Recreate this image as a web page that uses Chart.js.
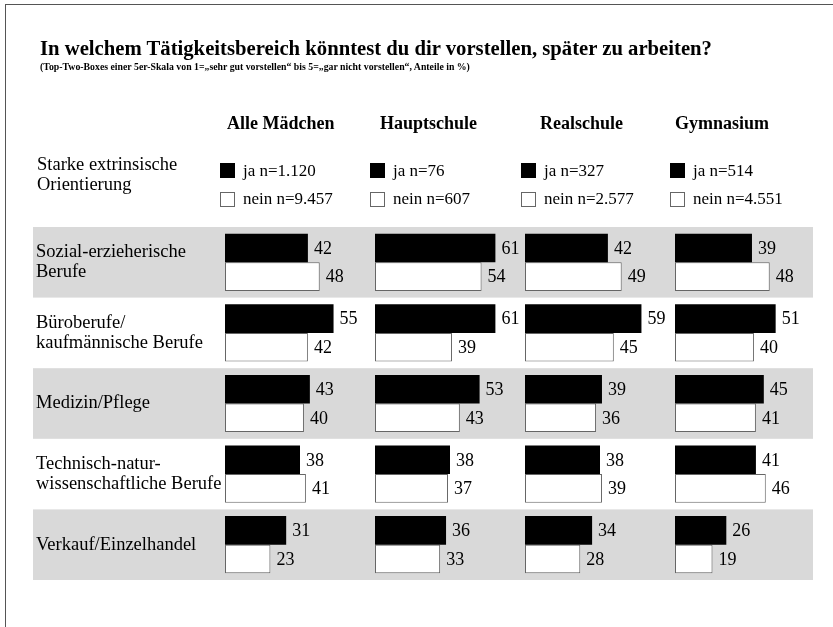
<!DOCTYPE html>
<html lang="de">
<head>
<meta charset="utf-8">
<script src="https://cdn.jsdelivr.net/npm/chart.js@4/dist/chart.umd.min.js"></script>
<style>
  body { margin: 0; background: #fff; font-family: 'Liberation Serif', serif; color: #000; }
  #wrap { position: relative; width: 833px; height: 627px; overflow: hidden; }
  #frame { position: absolute; left: 5px; top: 4px; right: -10px; bottom: -10px; border-left: 1.5px solid #555; border-top: 1.5px solid #555; }
  canvas { position: absolute; left: 0; top: 0; }
  .t { position: absolute; white-space: nowrap; }
  h1 { position: absolute; left: 40px; top: 37px; margin: 0; font-size: 20.7px; font-weight: bold; }
  .sub { position: absolute; left: 40px; top: 61px; font-size: 9.8px; font-weight: bold; }
  .col { font-size: 18px; font-weight: bold; top: 113px; }
  .lab { font-size: 18.5px; left: 37px; }
  .leg { font-size: 17px; }
  .box { position: absolute; width: 15px; height: 15px; box-sizing: border-box; }
</style>
</head>
<body>
<div id="wrap">
  <div id="frame"></div>
  <canvas id="chart" width="833" height="627"></canvas>
  <h1 class="t">In welchem Tätigkeitsbereich könntest du dir vorstellen, später zu arbeiten?</h1>
  <div class="t sub">(Top-Two-Boxes einer 5er-Skala von 1=„sehr gut vorstellen“ bis 5=„gar nicht vorstellen“, Anteile in %)</div>
  <div class="t lab" style="top:154px">Starke extrinsische</div>
  <div class="t lab" style="top:174px">Orientierung</div>
  <div id="header"></div>
</div>
<script>
// Berufsfelder (y-Achse)
const categories = [
  ['Sozial-erzieherische', 'Berufe'],
  ['Büroberufe/', 'kaufmännische Berufe'],
  ['Medizin/Pflege'],
  ['Technisch-natur-', 'wissenschaftliche Berufe'],
  ['Verkauf/Einzelhandel']
];

// Spalten
const groups = ['Alle Mädchen', 'Hauptschule', 'Realschule', 'Gymnasium'];
const jaN = ['1.120', '76', '327', '514'];
const neinN = ['9.457', '607', '2.577', '4.551'];

// Anteile in % (ja = starke extrinsische Orientierung)
const jaAlle = [42, 55, 43, 38, 31];
const jaHaupt = [61, 61, 53, 38, 36];
const jaReal = [42, 59, 39, 38, 34];
const jaGym = [39, 51, 45, 41, 26];

const neinAlle = [48, 42, 40, 41, 23];
const neinHaupt = [54, 39, 43, 37, 33];
const neinReal = [49, 45, 36, 39, 28];
const neinGym = [48, 40, 41, 46, 19];

const jaValues = [jaAlle, jaHaupt, jaReal, jaGym];
const neinValues = [neinAlle, neinHaupt, neinReal, neinGym];

// header: column titles + legends
const titleX = [227, 380, 540, 675];
const legX = [220, 370, 521, 670];
const header = document.getElementById('header');
groups.forEach((g, i) => {
  header.innerHTML += `
    <div class="t col" style="left:${titleX[i]}px">${g}</div>
    <div class="box" style="left:${legX[i]}px;top:163px;background:#000"></div>
    <div class="t leg" style="left:${legX[i] + 23}px;top:161px">ja n=${jaN[i]}</div>
    <div class="box" style="left:${legX[i]}px;top:192px;background:#fff;border:1px solid #666"></div>
    <div class="t leg" style="left:${legX[i] + 23}px;top:189px">nein n=${neinN[i]}</div>
  `;
});

const datasets = [];
groups.forEach((g, i) => {
  datasets.push({
    label: g + ' ja',
    data: jaValues[i],
    xAxisID: 'x' + i,
    stack: 'ja',
    backgroundColor: '#000',
    borderWidth: 0
  });
  datasets.push({
    label: g + ' nein',
    data: neinValues[i],
    xAxisID: 'x' + i,
    stack: 'nein',
    backgroundColor: '#fff',
    borderColor: '#666',
    borderWidth: 1,
    borderSkipped: false
  });
});

const xScales = {};
groups.forEach((g, i) => {
  xScales['x' + i] = {
    type: 'linear',
    position: 'bottom',
    stack: 'cols',
    min: 0,
    max: 76,
    display: false
  };
});

// grey bands behind every second row
const bandPlugin = {
  id: 'bands',
  beforeDraw(chart) {
    const { ctx } = chart;
    const y = chart.scales.y;
    const step = (y.bottom - y.top) / categories.length;
    ctx.save();
    ctx.fillStyle = '#d9d9d9';
    for (let i = 0; i < categories.length; i += 2) {
      const cy = y.getPixelForValue(i);
      ctx.fillRect(33, cy - step / 2, 780, step);
    }
    ctx.restore();
  }
};

// value labels right of each bar
const valuePlugin = {
  id: 'values',
  afterDatasetsDraw(chart) {
    const { ctx } = chart;
    ctx.save();
    ctx.font = '18px "Liberation Serif", serif';
    ctx.fillStyle = '#000';
    ctx.textAlign = 'left';
    ctx.textBaseline = 'middle';
    chart.data.datasets.forEach((ds, di) => {
      chart.getDatasetMeta(di).data.forEach((bar, j) => {
        ctx.fillText(ds.data[j], bar.x + 6, bar.y + 1);
      });
    });
    ctx.restore();
  }
};

new Chart(document.getElementById('chart'), {
  type: 'bar',
  data: {
    labels: categories,
    datasets: datasets
  },
  options: {
    indexAxis: 'y',
    responsive: false,
    animation: false,
    categoryPercentage: 0.81,
    barPercentage: 1.0,
    layout: {
      padding: { left: 36, right: 8, top: 227, bottom: 47 }
    },
    scales: Object.assign({
      y: {
        grid: { display: false },
        border: { display: false },
        afterFit: (scale) => { scale.width = 189; },
        ticks: {
          crossAlign: 'far',
          color: '#000',
          font: { family: 'Liberation Serif', size: 18.5, lineHeight: 1.1 }
        }
      }
    }, xScales),
    plugins: {
      legend: { display: false },
      tooltip: { enabled: false }
    }
  },
  plugins: [bandPlugin, valuePlugin]
});
</script>
</body>
</html>
